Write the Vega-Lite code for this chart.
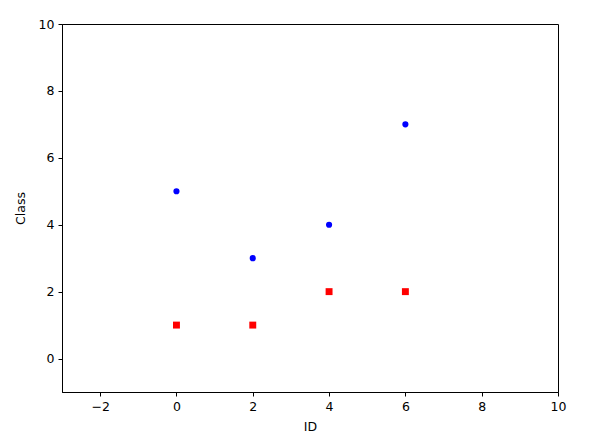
{
  "$schema": "https://vega.github.io/schema/vega-lite/v6.json",
  "width": 496,
  "height": 368,
  "autosize": {"type": "none"},
  "padding": {"left": 62, "top": 24, "right": 33, "bottom": 47},
  "background": "white",
  "config": {
    "view": {"stroke": "black", "strokeWidth": 1},
    "font": "DejaVu Sans",
    "axis": {
      "grid": false,
      "domainColor": "black",
      "tickColor": "black",
      "tickSize": 4,
      "labelColor": "black",
      "titleColor": "black",
      "labelFontSize": 12.5,
      "titleFontSize": 12.5,
      "titleFontWeight": "normal",
      "labelFont": "DejaVu Sans",
      "titleFont": "DejaVu Sans",
      "labelPadding": 4,
      "titlePadding": 8,
      "labelFlush": false,
      "labelOverlap": false
    }
  },
  "data": {
    "values": [
      {"ID": 0, "Class": 5, "series": "A"},
      {"ID": 2, "Class": 3, "series": "A"},
      {"ID": 4, "Class": 4, "series": "A"},
      {"ID": 6, "Class": 7, "series": "A"},
      {"ID": 0, "Class": 1, "series": "B"},
      {"ID": 2, "Class": 1, "series": "B"},
      {"ID": 4, "Class": 2, "series": "B"},
      {"ID": 6, "Class": 2, "series": "B"}
    ]
  },
  "mark": {"type": "point", "filled": true, "opacity": 1},
  "encoding": {
    "x": {
      "field": "ID", "type": "quantitative",
      "scale": {"domain": [-3, 10], "nice": false, "zero": false},
      "axis": {"values": [-2, 0, 2, 4, 6, 8, 10], "title": "ID"}
    },
    "y": {
      "field": "Class", "type": "quantitative",
      "scale": {"domain": [-1, 10], "nice": false, "zero": false},
      "axis": {"values": [0, 2, 4, 6, 8, 10], "title": "Class", "titlePadding": 11}
    },
    "shape": {
      "field": "series", "type": "nominal",
      "scale": {"domain": ["A", "B"], "range": ["circle", "square"]},
      "legend": null
    },
    "color": {
      "field": "series", "type": "nominal",
      "scale": {"domain": ["A", "B"], "range": ["#0000ff", "#ff0000"]},
      "legend": null
    },
    "size": {
      "field": "series", "type": "nominal",
      "scale": {"domain": ["A", "B"], "range": [38, 48]},
      "legend": null
    }
  }
}
